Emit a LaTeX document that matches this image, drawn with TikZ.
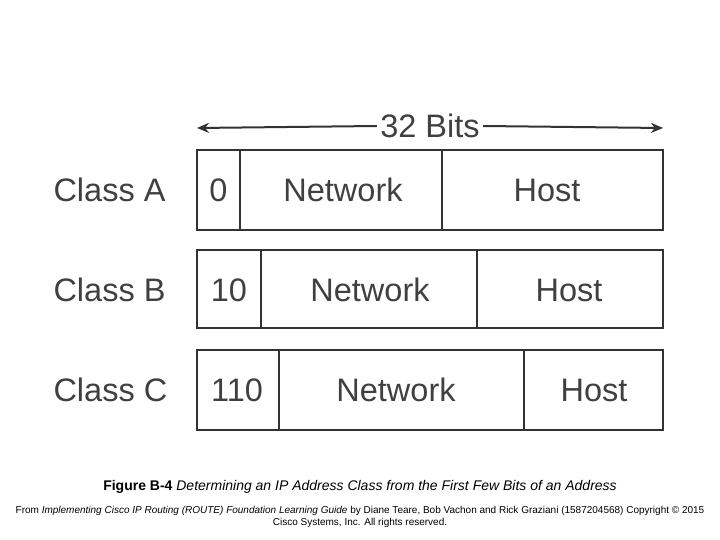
\documentclass[tikz,border=0pt]{standalone}
\usepackage{fontspec}
\setmainfont{Liberation Sans}
\usetikzlibrary{arrows.meta}
\tikzset{
  field/.style={draw=black!80,line width=2.2pt,inner sep=0pt},
  lbl/.style={font=\fontsize{32.5}{34}\selectfont,text=black!75},
  cls/.style={font=\fontsize{32.5}{34}\selectfont,text=black!75,anchor=west}
}
\begin{document}
\begin{tikzpicture}[x=1pt,y=-1pt]
\useasboundingbox (0,0) rectangle (720,540);
% the 32 bit span
\node[lbl] (bits) at (430,126) {32 Bits};
\coordinate (left) at (197,128);
\coordinate (right) at (663,128);
\draw[line width=2pt,black!80,-{Stealth[length=12pt,width=10pt]}] (bits.west) -- (left);
\draw[line width=2pt,black!80,-{Stealth[length=12pt,width=10pt]}] (bits.east) -- (right);
% class A
\node[cls] (ca) at (50,190) {Class A};
\draw[field] (197,150) rectangle (663,230);
\draw[field] (240,150) -- (240,230);
\draw[field] (442,150) -- (442,230);
\node[lbl] (a0) at (218.5,190) {0};
\node[lbl] (an) at (343,190) {Network};
\node[lbl] (ah) at (547,190) {Host};
% class B
\node[cls] (cb) at (50,290) {Class B};
\draw[field] (197,250) rectangle (663,328);
\draw[field] (261,250) -- (261,328);
\draw[field] (477,250) -- (477,328);
\node[lbl] (b0) at (229,290) {10};
\node[lbl] (bn) at (370,290) {Network};
\node[lbl] (bh) at (569,290) {Host};
% class C
\node[cls] (cc) at (50,390) {Class C};
\draw[field] (197,350) rectangle (663,430);
\draw[field] (279,350) -- (279,430);
\draw[field] (524,350) -- (524,430);
\node[lbl] (c0) at (237,390) {110};
\node[lbl] (cn) at (396,390) {Network};
\node[lbl] (ch) at (594,390) {Host};
% caption
\node[font=\fontsize{14}{16}\selectfont] (cap) at (360,487)
  {\textbf{Figure B-4} \textit{Determining an IP Address Class from the First Few Bits of an Address}};
\node[font=\fontsize{10}{12}\selectfont,align=center] (src) at (360,517)
  {From \textit{Implementing Cisco IP Routing (ROUTE) Foundation Learning Guide} by Diane Teare, Bob Vachon and Rick Graziani (1587204568) Copyright © 2015\\
   Cisco Systems, Inc. All rights reserved.};
\end{tikzpicture}
\end{document}
